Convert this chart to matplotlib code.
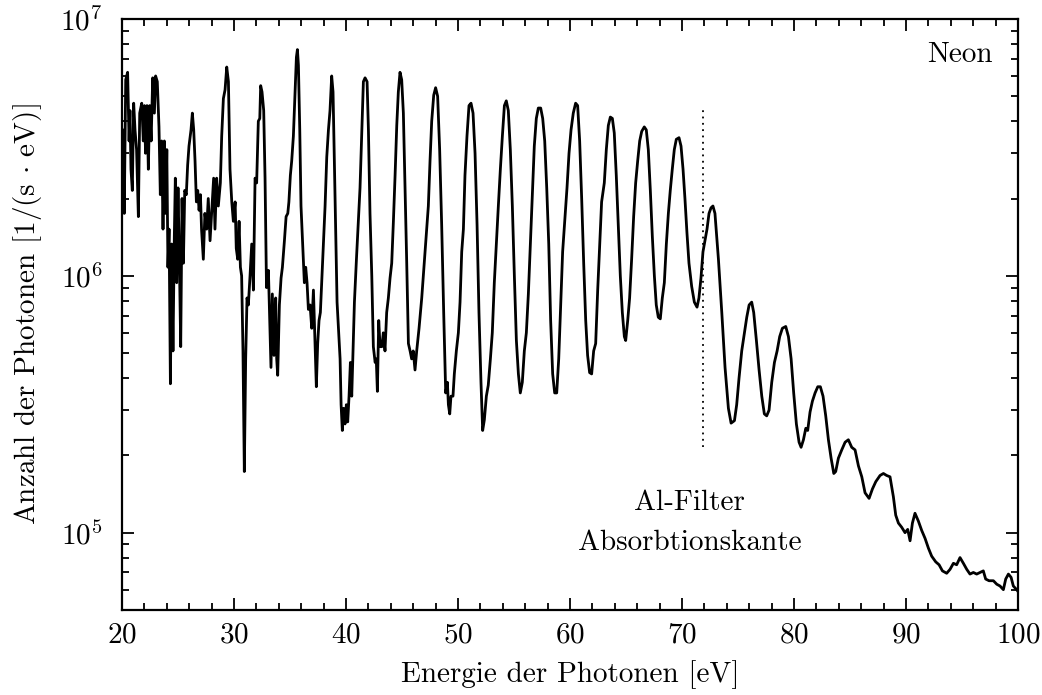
import numpy as np
import matplotlib
matplotlib.use("Agg")
import matplotlib.pyplot as plt
from matplotlib.ticker import MultipleLocator, LogLocator, NullFormatter

# Photonenspektrum (Neon), Werte
energy = [
    20.0, 20.1, 20.2, 20.33, 20.5, 20.63, 20.71, 20.8, 20.92, 21.04, 21.16, 21.3, 21.46, 21.58, 21.76,
    21.9, 22.0, 22.1, 22.23, 22.35, 22.47, 22.6, 22.74, 22.89, 23.0, 23.15, 23.3, 23.42, 23.54, 23.66,
    23.78, 23.9, 24.0, 24.1, 24.2, 24.32, 24.43, 24.55, 24.67, 24.76, 24.88, 25.0, 25.12, 25.24, 25.36,
    25.48, 25.6, 25.74, 25.86, 25.98, 26.16, 26.28, 26.4, 26.52, 26.64, 26.76, 26.88, 27.0, 27.1, 27.26,
    27.4, 27.56, 27.7, 27.86, 28.0, 28.18, 28.3, 28.45, 28.6, 28.78, 28.9, 29.05, 29.2, 29.35, 29.5,
    29.64, 29.8, 29.94, 30.1, 30.2, 30.33, 30.45, 30.57, 30.68, 30.8, 30.92, 31.04, 31.16, 31.28, 31.43,
    31.58, 31.73, 31.88, 32.02, 32.17, 32.3, 32.38, 32.5, 32.65, 32.77, 32.9, 33.07, 33.19, 33.3, 33.42,
    33.57, 33.72, 33.81, 33.9, 34.05, 34.2, 34.32, 34.5, 34.65, 34.8, 34.9, 35.03, 35.15, 35.3, 35.45,
    35.57, 35.66, 35.75, 35.87, 35.98, 36.13, 36.28, 36.4, 36.52, 36.64, 36.79, 36.94, 37.09, 37.23, 37.35,
    37.47, 37.59, 37.71, 37.83, 37.98, 38.13, 38.28, 38.43, 38.57, 38.72, 38.84, 38.96, 39.08, 39.2, 39.32,
    39.47, 39.56, 39.67, 39.79, 39.91, 40.03, 40.15, 40.27, 40.39, 40.51, 40.63, 40.75, 40.93, 41.1, 41.25,
    41.4, 41.55, 41.7, 41.88, 42.0, 42.14, 42.3, 42.44, 42.6, 42.7, 42.8, 42.92, 43.04, 43.2, 43.33,
    43.48, 43.63, 43.78, 43.93, 44.08, 44.23, 44.38, 44.53, 44.67, 44.82, 44.97, 45.12, 45.27, 45.42, 45.57,
    45.72, 45.86, 46.0, 46.16, 46.31, 46.52, 46.76, 46.9, 47.05, 47.2, 47.35, 47.5, 47.65, 47.83, 48.0,
    48.18, 48.36, 48.54, 48.72, 48.9, 49.05, 49.14, 49.26, 49.37, 49.55, 49.67, 49.85, 50.03, 50.18, 50.33,
    50.48, 50.62, 50.8, 50.98, 51.16, 51.34, 51.52, 51.7, 51.87, 52.05, 52.2, 52.35, 52.53, 52.7, 52.89,
    53.06, 53.24, 53.42, 53.6, 53.78, 53.96, 54.14, 54.31, 54.49, 54.67, 54.85, 55.03, 55.21, 55.39, 55.56,
    55.74, 55.92, 56.1, 56.28, 56.46, 56.64, 56.81, 56.99, 57.17, 57.38, 57.56, 57.74, 57.92, 58.1, 58.27,
    58.45, 58.63, 58.81, 58.99, 59.17, 59.34, 59.55, 59.73, 59.91, 60.09, 60.29, 60.5, 60.68, 60.86, 61.04,
    61.22, 61.4, 61.57, 61.75, 61.93, 62.11, 62.29, 62.47, 62.65, 62.82, 63.06, 63.24, 63.42, 63.6, 63.78,
    63.95, 64.13, 64.31, 64.49, 64.67, 64.85, 64.97, 65.15, 65.32, 65.5, 65.68, 65.86, 66.04, 66.22, 66.4,
    66.63, 66.81, 66.99, 67.17, 67.35, 67.53, 67.7, 67.88, 68.06, 68.24, 68.42, 68.6, 68.78, 68.95, 69.13,
    69.31, 69.49, 69.73, 69.91, 70.09, 70.26, 70.44, 70.62, 70.86, 71.1, 71.34, 71.51, 71.69, 71.87, 72.05,
    72.23, 72.41, 72.59, 72.76, 72.94, 73.25, 73.55, 73.84, 74.14, 74.38, 74.68, 74.88, 75.09, 75.33, 75.57,
    75.78, 75.99, 76.22, 76.4, 76.64, 76.88, 77.12, 77.35, 77.56, 77.77, 78.01, 78.25, 78.49, 78.72, 78.96,
    79.26, 79.5, 79.74, 79.97, 80.21, 80.45, 80.63, 80.84, 81.05, 81.22, 81.43, 81.64, 81.88, 82.12, 82.35,
    82.59, 82.83, 83.07, 83.31, 83.55, 83.72, 83.96, 84.26, 84.56, 84.85, 85.15, 85.45, 85.75, 86.05, 86.34,
    86.7, 87.0, 87.3, 87.68, 87.98, 88.27, 88.57, 88.87, 89.08, 89.32, 89.61, 89.91, 90.15, 90.36, 90.57,
    90.8, 91.1, 91.4, 91.7, 92.0, 92.29, 92.65, 92.95, 93.25, 93.63, 93.93, 94.23, 94.52, 94.82, 95.12,
    95.42, 95.71, 96.01, 96.31, 96.61, 96.9, 97.11, 97.41, 97.8, 98.1, 98.39, 98.69, 98.9, 99.14, 99.38,
    99.58, 99.88, 100.0,
]
counts = [
    2.0e6, 3.7e6, 1.75e6, 5.8e6, 6.2e6, 3.35e6, 4.4e6, 2.6e6, 2.15e6, 4.7e6, 3.7e6, 3.1e6, 1.7e6, 4.3e6, 4.7e6,
    3.35e6, 4.6e6, 3.0e6, 4.6e6, 2.6e6, 4.6e6, 3.35e6, 5.9e6, 4.3e6, 6.0e6, 5.7e6, 3.8e6, 2.07e6, 3.35e6, 1.52e6,
    3.35e6, 1.75e6, 3.1e6, 1.08e6, 1.52e6, 3.8e5, 1.33e6, 5.1e5, 1.42e6, 2.4e6, 9.4e5, 2.2e6, 1.16e6, 5.3e5, 2.0e6,
    1.12e6, 2.15e6, 2.07e6, 2.7e6, 3.2e6, 3.7e6, 4.3e6, 3.7e6, 2.8e6, 1.94e6, 2.15e6, 1.8e6, 2.07e6, 1.52e6, 1.16e6,
    1.75e6, 1.52e6, 2.0e6, 1.37e6, 1.75e6, 2.4e6, 1.52e6, 2.4e6, 1.87e6, 2.3e6, 3.5e6, 4.9e6, 5.3e6, 6.5e6, 5.7e6,
    2.6e6, 1.94e6, 1.63e6, 1.94e6, 1.28e6, 1.16e6, 1.63e6, 1.08e6, 1.0e6, 5.1e5, 1.73e5, 4.75e5, 8.2e5, 7.7e5, 1.0e6,
    1.33e6, 8.8e5, 2.4e6, 2.3e6, 4.0e6, 4.1e6, 5.5e6, 5.2e6, 4.4e6, 2.4e6, 9.0e5, 1.05e6, 6.7e5, 4.4e5, 8.5e5,
    4.9e5, 8.2e5, 4.75e5, 4.1e5, 7.7e5, 9.8e5, 1.08e6, 1.37e6, 1.7e6, 1.75e6, 1.94e6, 2.46e6, 2.8e6, 3.5e6, 5.2e6,
    7.1e6, 7.6e6, 6.6e6, 3.7e6, 1.87e6, 1.33e6, 9.4e5, 1.08e6, 9.4e5, 7.4e5, 7.7e5, 6.25e5, 8.8e5, 5.45e5, 3.7e5,
    5.45e5, 6.7e5, 7.2e5, 9.4e5, 1.33e6, 1.87e6, 2.9e6, 3.7e6, 4.4e6, 6.0e6, 5.2e6, 2.8e6, 1.58e6, 7.9e5, 6.25e5,
    4.75e5, 3.15e5, 2.5e5, 3.05e5, 2.65e5, 3.15e5, 2.7e5, 3.4e5, 4.6e5, 3.4e5, 5.1e5, 7.9e5, 1.16e6, 1.63e6, 2.2e6,
    3.5e6, 5.7e6, 5.9e6, 5.7e6, 3.7e6, 1.75e6, 1.0e6, 5.3e5, 4.6e5, 4.75e5, 3.55e5, 6.7e5, 5.3e5, 5.3e5, 6.0e5,
    5.1e5, 7.2e5, 8.2e5, 9.8e5, 1.12e6, 1.63e6, 2.46e6, 3.85e6, 5.2e6, 6.2e6, 5.8e6, 4.3e6, 2.2e6, 1.12e6, 5.45e5,
    5.1e5, 4.75e5, 5.1e5, 4.3e5, 5.1e5, 6.25e5, 8.2e5, 1.0e6, 1.24e6, 1.52e6, 1.87e6, 2.8e6, 4.0e6, 5.05e6, 5.4e6,
    5.0e6, 3.1e6, 1.58e6, 7.2e5, 3.5e5, 3.85e5, 3.15e5, 2.9e5, 3.4e5, 3.4e5, 4.15e5, 5.1e5, 6.0e5, 7.9e5, 1.24e6,
    1.52e6, 2.46e6, 3.5e6, 4.6e6, 4.7e6, 4.3e6, 3.0e6, 1.58e6, 7.2e5, 3.85e5, 2.5e5, 2.75e5, 3.4e5, 3.75e5, 4.75e5,
    6.0e5, 9.4e5, 1.33e6, 1.87e6, 2.6e6, 3.5e6, 4.6e6, 4.8e6, 4.4e6, 3.1e6, 1.87e6, 1.0e6, 5.6e5, 4.15e5, 3.5e5,
    3.85e5, 5.1e5, 6.0e5, 8.5e5, 1.33e6, 2.07e6, 3.2e6, 4.1e6, 4.5e6, 4.5e6, 4.1e6, 3.35e6, 2.2e6, 1.33e6, 6.7e5,
    4.15e5, 3.5e5, 3.5e5, 4.75e5, 7.7e5, 1.24e6, 1.7e6, 2.2e6, 3.0e6, 3.7e6, 4.3e6, 4.7e6, 4.6e6, 3.35e6, 2.0e6,
    1.12e6, 6.7e5, 4.9e5, 4.2e5, 4.15e5, 5.1e5, 5.45e5, 8.8e5, 1.33e6, 1.94e6, 2.3e6, 3.1e6, 3.85e6, 4.15e6, 4.1e6,
    3.6e6, 2.46e6, 1.58e6, 1.0e6, 7.2e5, 5.8e5, 5.6e5, 6.7e5, 8.2e5, 1.16e6, 1.7e6, 2.3e6, 2.8e6, 3.35e6, 3.65e6,
    3.8e6, 3.7e6, 3.1e6, 2.15e6, 1.42e6, 1.0e6, 7.7e5, 6.9e5, 6.8e5, 8.2e5, 9.4e5, 1.33e6, 1.75e6, 2.15e6, 2.6e6,
    3.1e6, 3.4e6, 3.45e6, 3.2e6, 2.6e6, 2.0e6, 1.47e6, 1.12e6, 9.1e5, 7.9e5, 7.55e5, 8.2e5, 9.8e5, 1.24e6, 1.37e6,
    1.52e6, 1.75e6, 1.84e6, 1.87e6, 1.75e6, 1.16e6, 7.2e5, 4.4e5, 3.05e5, 2.67e5, 2.73e5, 3.15e5, 4.0e5, 5.1e5, 6.0e5,
    6.9e5, 7.7e5, 7.9e5, 7.2e5, 5.6e5, 4.3e5, 3.4e5, 2.9e5, 2.85e5, 3.0e5, 3.85e5, 4.6e5, 5.1e5, 5.8e5, 6.25e5,
    6.35e5, 5.8e5, 4.75e5, 3.5e5, 2.65e5, 2.25e5, 2.15e5, 2.3e5, 2.55e5, 2.5e5, 2.95e5, 3.25e5, 3.5e5, 3.7e5, 3.7e5,
    3.4e5, 2.85e5, 2.3e5, 1.95e5, 1.7e5, 1.73e5, 1.95e5, 2.1e5, 2.25e5, 2.3e5, 2.15e5, 2.1e5, 1.82e5, 1.65e5, 1.43e5,
    1.36e5, 1.48e5, 1.58e5, 1.67e5, 1.7e5, 1.67e5, 1.65e5, 1.38e5, 1.17e5, 1.09e5, 1.05e5, 1.0e5, 1.03e5, 9.3e4, 1.09e5,
    1.19e5, 1.11e5, 1.02e5, 9.5e4, 8.7e4, 8.1e4, 7.7e4, 7.5e4, 7.1e4, 6.95e4, 7.2e4, 7.6e4, 7.5e4, 8.0e4, 7.6e4,
    7.2e4, 6.9e4, 7.0e4, 6.9e4, 7.0e4, 7.1e4, 6.6e4, 6.5e4, 6.5e4, 6.3e4, 6.2e4, 6.0e4, 6.6e4, 6.9e4, 6.7e4,
    6.2e4, 6.0e4, 5.9e4,
]

# Al-Filter Absorptionskante
edge_energy = 71.85
edge_range = [2.15e5, 4.5e6]

plt.rcParams['font.family'] = 'cmr10'
plt.rcParams['mathtext.fontset'] = 'cm'
plt.rcParams['axes.formatter.use_mathtext'] = True
plt.rcParams['axes.unicode_minus'] = False

fig = plt.figure(figsize=(10.42, 6.95), dpi=100)
ax = fig.add_axes([0.1171, 0.1223, 0.8599, 0.8504])

ax.semilogy(energy, counts, color='black', lw=2.0)
ax.plot([edge_energy, edge_energy], edge_range, color='black', ls=(0, (1, 2.5)), lw=1.3)

ax.set_xlim(20, 100)
ax.set_ylim(5e4, 1e7)

ax.xaxis.set_major_locator(MultipleLocator(10))
ax.xaxis.set_minor_locator(MultipleLocator(2))
ax.yaxis.set_major_locator(LogLocator(base=10))
ax.yaxis.set_minor_locator(LogLocator(base=10, subs=np.arange(2, 10)))
ax.yaxis.set_minor_formatter(NullFormatter())

ax.tick_params(which='both', direction='in', top=True, right=True, width=1.3, labelsize=21)
ax.tick_params(which='major', length=8.5)
ax.tick_params(which='minor', length=5)
ax.tick_params(axis='x', pad=9)
ax.tick_params(axis='y', pad=14)
for sp in ax.spines.values():
    sp.set_linewidth(1.6)

ax.set_xlabel('Energie der Photonen [eV]', fontsize=21, labelpad=8)
ax.set_ylabel(r'Anzahl der Photonen [1/(s $\cdot$ eV)]', fontsize=21, labelpad=12)

ax.text(0.972, 0.928, 'Neon', transform=ax.transAxes, ha='right', va='baseline', fontsize=21)
ax.text(70.7, 1.23e5, 'Al-Filter', ha='center', va='baseline', fontsize=21)
ax.text(70.7, 8.6e4, 'Absorbtionskante', ha='center', va='baseline', fontsize=21)

fig.savefig('out.png', dpi=100)
